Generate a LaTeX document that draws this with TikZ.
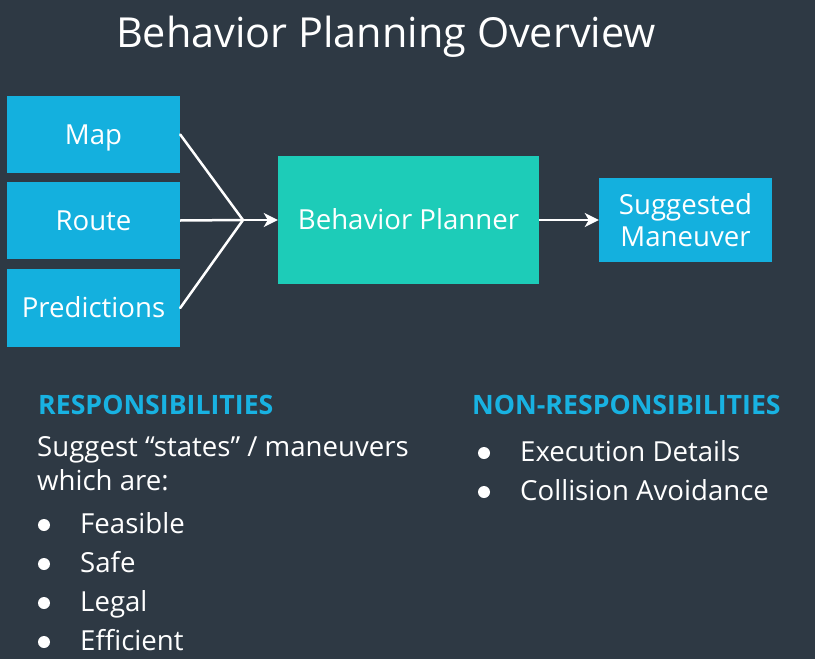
\documentclass[tikz,border=0pt]{standalone}
\usepackage{fontspec}
\setmainfont{Open Sans}
\usetikzlibrary{arrows.meta}
\definecolor{bg}{RGB}{46,57,68}
\definecolor{boxblue}{RGB}{20,176,222}
\definecolor{boxteal}{RGB}{29,204,184}
\definecolor{headblue}{RGB}{24,178,226}
\begin{document}
\begin{tikzpicture}[x=1pt,y=-1pt,
  inbox/.style={fill=boxblue,draw=none,minimum width=173pt,minimum height=77pt,inner sep=0pt,
    text=white,font=\fontsize{27.6}{32}\selectfont,text height=19.7pt,text depth=0pt},
  planbox/.style={fill=boxteal,draw=none,minimum width=261pt,minimum height=128pt,inner sep=0pt,
    text=white,font=\fontsize{27.6}{32}\selectfont,text height=19.7pt,text depth=0pt},
  outbox/.style={fill=boxblue,draw=none,minimum width=173pt,minimum height=84pt,inner sep=0pt,
    text=white,font=\fontsize{27.6}{32}\selectfont,align=center},
  wire/.style={draw=white,line width=2.5pt},
  arrowwire/.style={wire,-{Stealth[length=14pt,width=14pt,inset=4pt]}},
  titletext/.style={text=white,font=\fontsize{41.4}{48}\selectfont,inner sep=0pt,anchor=base},
  headtext/.style={text=headblue,font=\fontsize{26.7}{32}\selectfont\bfseries,inner sep=0pt,anchor=base west},
  bodytext/.style={text=white,font=\fontsize{27.6}{32}\selectfont,inner sep=0pt,anchor=base west},
  bulletdot/.style={circle,fill=white,draw=none,minimum size=12pt,inner sep=0pt}
]
\fill[bg] (0,0) rectangle (815,659);
\useasboundingbox (0,0) rectangle (815,659);

\node[titletext] (title) at (386,47) {Behavior Planning Overview};

\node[inbox] (map) at (93.5,134.5) {Map};
\node[inbox] (route) at (93.5,220.5) {Route};
\node[inbox,minimum height=78pt] (pred) at (93.5,308) {Predictions};
\node[planbox] (bp) at (408.5,220) {Behavior Planner};
\node[outbox] (sm) at (685.5,220) {Suggested\\Maneuver};

\coordinate (join) at (243,220);
\draw[wire,line cap=round] (map.east) -- (join);
\draw[wire] (route.east) -- (join);
\draw[wire,line cap=round] (pred.east) -- (join);
\draw[arrowwire] (join) -- (bp.west);
\draw[arrowwire] (bp.east) -- (sm.west);

\node[headtext] (resp) at (38,414) {RESPONSIBILITIES};
\node[bodytext] (sugg) at (37,456) {Suggest “states” / maneuvers};
\node[bodytext] (which) at (37,490) {which are:};
\node[bulletdot] (b1) at (44,525) {};
\node[bodytext] (feas) at (80,533) {Feasible};
\node[bulletdot] (b2) at (44,564) {};
\node[bodytext] (safe) at (80,572) {Safe};
\node[bulletdot] (b3) at (44,603) {};
\node[bodytext] (legal) at (80,611) {Legal};
\node[bulletdot] (b4) at (44,642) {};
\node[bodytext] (eff) at (80,650) {Efficient};

\node[headtext] (nonresp) at (472,414) {NON-RESPONSIBILITIES};
\node[bulletdot] (b5) at (484,453) {};
\node[bodytext] (exec) at (520,461) {Execution Details};
\node[bulletdot] (b6) at (484,492) {};
\node[bodytext] (coll) at (520,500) {Collision Avoidance};
\end{tikzpicture}
\end{document}
